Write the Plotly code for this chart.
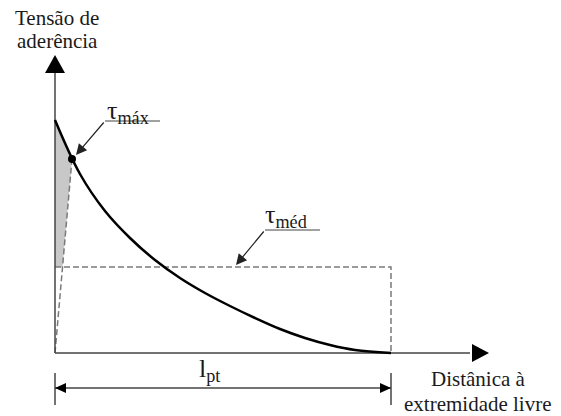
import plotly.graph_objects as go

# Curve: bond stress (normalised by value at free end) vs distance (normalised by l_pt)
dist = [0.0, 0.0744, 0.1488, 0.2232, 0.2976, 0.3720, 0.4464, 0.5208, 0.5952, 0.6696, 0.7440, 0.8185, 0.8929, 1.0]
tens = [1.0, 0.7682, 0.6094, 0.4936, 0.3991, 0.3219, 0.2575, 0.2017, 0.1502, 0.1030, 0.0644, 0.0343, 0.0129, 0.0]

tau_max_x = 0.0506
tau_max_y = 0.8326
tau_med = 0.369
l_pt = 1.0

y_title = ["Tensão de", "aderência"]
x_title = ["Distânica à", "extremidade livre"]

PX_X = 336.0
PX_Y = 233.0
X0 = [-55 / PX_X, 506 / PX_X]
Y0 = [-63 / PX_Y, 353 / PX_Y]

def dx(p):
    return p / PX_X

def dy(p):
    return p / PX_Y

AX = "#444444"
DASH = "#7a7a7a"
SERIF = "Liberation Serif, DejaVu Serif, Times New Roman, serif"

fig = go.Figure()

xm = tau_max_x * tau_med / tau_max_y
fig.add_trace(go.Scatter(
    x=[dist[0], tau_max_x, xm, 0, dist[0]],
    y=[tens[0], tau_max_y, tau_med, tau_med, tens[0]],
    fill="toself", fillcolor="#c8c8c8", line=dict(width=0),
    mode="lines", hoverinfo="skip", showlegend=False))

fig.add_trace(go.Scatter(
    x=[0, l_pt, l_pt], y=[tau_med, tau_med, 0], mode="lines",
    line=dict(color=DASH, width=1.5, dash="6px,3px"), showlegend=False))
fig.add_trace(go.Scatter(
    x=[0, tau_max_x], y=[0, tau_max_y], mode="lines",
    line=dict(color=DASH, width=1.5, dash="6px,3px"), showlegend=False))

fig.add_trace(go.Scatter(x=[0, 0], y=[0, dy(353 - 70)], mode="lines",
                         line=dict(color=AX, width=1.5), showlegend=False))
fig.add_trace(go.Scatter(x=[0, dx(470 - 55)], y=[0, 0], mode="lines",
                         line=dict(color=AX, width=1.5), showlegend=False))

fig.add_trace(go.Scatter(x=dist, y=tens, mode="lines",
                         line=dict(color="black", width=2.5, shape="spline", smoothing=1.0),
                         showlegend=False))
fig.add_trace(go.Scatter(x=[tau_max_x], y=[tau_max_y], mode="markers",
                         marker=dict(color="black", size=8), showlegend=False))

ydim = -dy(35)
fig.add_trace(go.Scatter(x=[0, l_pt], y=[ydim, ydim], mode="lines",
                         line=dict(color=AX, width=1.5), showlegend=False))
for xv in [0, l_pt]:
    fig.add_trace(go.Scatter(x=[xv, xv], y=[-dy(20), -dy(52)], mode="lines",
                             line=dict(color=AX, width=1.5), showlegend=False))

shapes = []
shapes.append(dict(type="path", xref="x", yref="y",
                   path=f"M {-dx(10)} {dy(353-73)} L {dx(10)} {dy(353-73)} L 0 {dy(353-55)} Z",
                   fillcolor="black", line=dict(width=0)))
shapes.append(dict(type="path", xref="x", yref="y",
                   path=f"M {dx(472-55)} {dy(9)} L {dx(472-55)} {-dy(9)} L {dx(489-55)} 0 Z",
                   fillcolor="black", line=dict(width=0)))
shapes.append(dict(type="path", xref="x", yref="y",
                   path=f"M 0 {ydim} L {dx(11)} {ydim+dy(5)} L {dx(11)} {ydim-dy(5)} Z",
                   fillcolor="black", line=dict(width=0)))
shapes.append(dict(type="path", xref="x", yref="y",
                   path=f"M {l_pt} {ydim} L {l_pt-dx(11)} {ydim+dy(5)} L {l_pt-dx(11)} {ydim-dy(5)} Z",
                   fillcolor="black", line=dict(width=0)))
shapes.append(dict(type="line", xref="x", yref="y",
                   x0=dx(105-55), x1=dx(160-55), y0=dy(353-121), y1=dy(353-121),
                   line=dict(color=AX, width=1)))
shapes.append(dict(type="line", xref="x", yref="y",
                   x0=dx(265-55), x1=dx(320-55), y0=dy(353-230), y1=dy(353-230),
                   line=dict(color=AX, width=1)))

annotations = []
annotations.append(dict(x=dx(76-55), y=dy(353-155), ax=dx(105-55), ay=dy(353-121),
                        xref="x", yref="y", axref="x", ayref="y", text="",
                        showarrow=True, arrowhead=2, arrowsize=1.8, arrowwidth=1.2, arrowcolor="#222"))
annotations.append(dict(x=dx(236-55), y=dy(353-265), ax=dx(265-55), ay=dy(353-230),
                        xref="x", yref="y", axref="x", ayref="y", text="",
                        showarrow=True, arrowhead=2, arrowsize=1.8, arrowwidth=1.2, arrowcolor="#222"))

def f(size):
    return dict(family=SERIF, size=size, color="#1a1a1a")

annotations += [
    dict(x=dx(57-55), y=dy(353-18), text=y_title[0], showarrow=False, xref="x", yref="y",
         font=f(21)),
    dict(x=dx(57-55), y=dy(353-41), text=y_title[1], showarrow=False, xref="x", yref="y",
         font=f(21)),
    dict(x=dx(105-55), y=dy(353-112), text="τ<sub>máx</sub>", showarrow=False, xref="x", yref="y",
         xanchor="left", font=f(26)),
    dict(x=dx(263-55), y=dy(353-216), text="τ<sub>méd</sub>", showarrow=False, xref="x", yref="y",
         xanchor="left", font=f(26)),
    dict(x=dx(209-55), y=dy(353-370), text="l<sub>pt</sub>", showarrow=False, xref="x", yref="y",
         font=f(26)),
    dict(x=dx(478-55), y=dy(353-379), text=x_title[0], showarrow=False, xref="x", yref="y",
         font=f(21)),
    dict(x=dx(478-55), y=dy(353-404), text=x_title[1], showarrow=False, xref="x", yref="y",
         font=f(21)),
]

fig.update_layout(
    width=561, height=416, margin=dict(l=0, r=0, t=0, b=0),
    plot_bgcolor="white", paper_bgcolor="white",
    font=dict(family=SERIF),
    xaxis=dict(range=X0, visible=False, fixedrange=True),
    yaxis=dict(range=Y0, visible=False, fixedrange=True),
    shapes=shapes, annotations=annotations, showlegend=False,
)

fig.write_html("out.html", config={"displayModeBar": False},
               post_script="document.body.style.margin='0px';document.body.style.padding='0px';")
